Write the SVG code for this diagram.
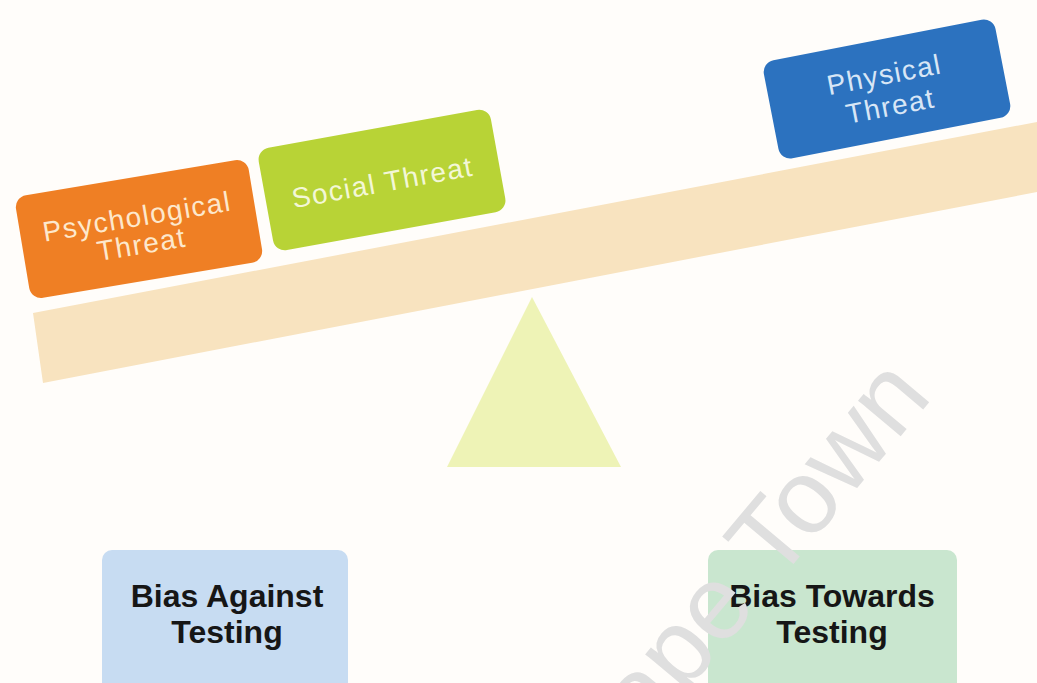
<svg xmlns="http://www.w3.org/2000/svg" width="1037" height="683" viewBox="0 0 1037 683">
  <style>
    .lbl { font-family: "Liberation Sans", Arial, sans-serif; font-size: 28px; letter-spacing: 1.5px; text-anchor: middle; }
    .bias { font-family: "Liberation Sans", Arial, sans-serif; font-size: 32px; font-weight: bold; fill: #161616; text-anchor: middle; }
    .wm { font-family: "Liberation Sans", Arial, sans-serif; font-size: 105px; fill: #DFDFDF; }
  </style>
  <rect x="0" y="0" width="1037" height="683" fill="#FFFDFA"/>
  <g id="fulcrum">
    <polygon points="532,297 447,467 621,467" fill="#EEF3B6"/>
  </g>
  <g id="beam">
    <polygon points="33,313 1037,122 1037,192 43,383" fill="#F8E3BF"/>
  </g>
  <g id="psychological-threat" transform="translate(139,229) rotate(-9.5)">
    <rect x="-118" y="-52" width="236" height="104" rx="12" fill="#EF7F24"/>
    <text class="lbl" x="0" y="-3" fill="#FDE8CC">Psychological</text>
    <text class="lbl" x="0" y="25" fill="#FDE8CC">Threat</text>
  </g>
  <g id="social-threat" transform="translate(382,180) rotate(-10.3)">
    <rect x="-118" y="-52" width="236" height="104" rx="12" fill="#B8D336"/>
    <text class="lbl" x="0" y="12" fill="#F3F7D6">Social Threat</text>
  </g>
  <g id="physical-threat" transform="translate(887,89) rotate(-11)">
    <rect x="-118" y="-50" width="236" height="100" rx="12" fill="#2C72BF"/>
    <text class="lbl" x="0" y="-5" fill="#D8E6F6">Physical</text>
    <text class="lbl" x="0" y="27" fill="#D8E6F6">Threat</text>
  </g>
  <g id="bias-against-testing">
    <rect x="102" y="550" width="246" height="150" rx="10" fill="#C7DCF2"/>
    <text class="bias" x="227" y="607">Bias Against</text>
    <text class="bias" x="227" y="643">Testing</text>
  </g>
  <g id="bias-towards-testing">
    <rect x="708" y="550" width="249" height="150" rx="10" fill="#C9E6CF"/>
    <text class="bias" x="832" y="607">Bias Towards</text>
    <text class="bias" x="832" y="643">Testing</text>
  </g>
  <g id="watermark">
    <text class="wm" x="597" y="798" transform="rotate(-50 597 798)">Cape Town</text>
  </g>
</svg>
